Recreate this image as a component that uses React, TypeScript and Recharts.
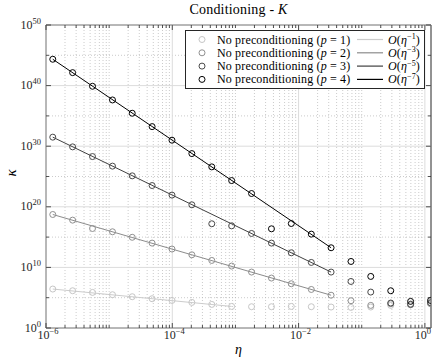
import React from "react";
import {
  ComposedChart,
  Line,
  XAxis,
  YAxis,
  ReferenceLine,
  ReferenceArea,
  Legend,
} from "recharts";

// eta values (x)
const ETA = [
  1.28e-6, 2.64e-6, 5.45e-6, 1.13e-5, 2.32e-5, 4.79e-5, 9.89e-5, 2.04e-4,
  4.22e-4, 8.71e-4, 1.8e-3, 3.72e-3, 7.67e-3, 1.59e-2, 3.27e-2, 6.76e-2,
  0.139, 0.288, 0.594, 1.23,
];

// condition numbers, one list per polynomial degree
const KAPPA_P1 = [
  2.69e6, 1.41e6, 7.41e5, 3.09e5, 1.45e5, 6.76e4, 3.55e4, 1.66e4, 7.76e3,
  3.63e3, 3.24e3, 3.24e3, 3.63e3, 3.24e3, 2.88e3, 2.51e3, 2.88e3, 5.37e3,
  6.92e3, 1.32e4,
];
const KAPPA_P2 = [
  5.37e18, 6.31e17, 2.63e16, 7.59e15, 9.33e14, 1.02e14, 1.07e13, 1.2e12,
  1.41e11, 1.66e10, 1.7e9, 1.74e8, 2.0e7, 2.29e6, 2.57e5, 3.16e4, 5.37e3,
  1.02e4, 6.92e3, 1.02e4,
];
const KAPPA_P3 = [
  3.09e31, 7.76e29, 1.95e28, 5.13e26, 1.29e25, 3.24e23, 8.51e21, 2.14e20,
  1.58e17, 7.24e16, 3.98e15, 1.02e14, 2.57e12, 6.61e10, 1.7e9, 4.79e7,
  8.51e5, 1.32e4, 8.32e3, 1.48e4,
];
const KAPPA_P4 = [
  2.24e44, 1.38e42, 7.76e39, 4.27e37, 2.75e35, 1.7e33, 9.77e30, 6.03e28,
  3.89e26, 2.14e24, 1.55e22, 2.34e16, 1.74e17, 3.09e15, 1.74e13, 9.55e10,
  3.24e8, 1.41e6, 2.45e4, 3.55e4,
];

// reference slopes O(eta^-(2p-1)): start/end index and value
const FIT_FIRST = [0, 0, 0, 0];
const FIT_LAST = [9, 14, 14, 14];
const FIT_FROM = [2.69e6, 5.37e18, 3.09e31, 2.24e44];
const FIT_TO = [3.63e3, 2.57e5, 1.7e9, 1.74e13];
const FIT_ORDERS = ["\u22121", "\u22123", "\u22125", "\u22127"];
const P_VALUES = [1, 2, 3, 4];

const X_MAJOR = [1e-6, 1e-4, 1e-2, 1];
const X_MAJOR_EXP = ["\u22126", "\u22124", "\u22122", "0"];
const Y_MAJOR = [1, 1e10, 1e20, 1e30, 1e40, 1e50];
const Y_MAJOR_EXP = ["0", "10", "20", "30", "40", "50"];
const Y_MINOR = [1e5, 1e15, 1e25, 1e35, 1e45];

const X_MAX = 1.25;
const W = 432;
const H = 362;
const PLOT_LEFT = 46;
const PLOT_RIGHT = 431;
const PLOT_TOP = 25;
const PLOT_BOTTOM = 328;

const FONT = '"Liberation Serif", serif';
const AXIS = "#262626";
const MARKER_COLORS = ["#c6c6c6", "#909090", "#4a4a4a", "#000000"];
const LINE_COLORS = ["#cccccc", "#8c8c8c", "#404040", "#000000"];

const KAPPA = [KAPPA_P1, KAPPA_P2, KAPPA_P3, KAPPA_P4];

// minor x gridlines: every integer multiple in each decade
const X_MINOR: number[] = [];
for (let d = -6; d <= 0; d++) {
  for (let k = 1; k <= 9; k++) {
    const v = k * Math.pow(10, d);
    if (v > X_MAX) continue;
    if (k === 1 && d % 2 === 0) continue;
    X_MINOR.push(v);
  }
}

const data = ETA.map((eta, i) => {
  const row: Record<string, number | undefined> = { eta };
  KAPPA.forEach((vals, s) => {
    row[`p${s + 1}`] = vals[i];
    row[`f${s + 1}`] =
      i === FIT_FIRST[s] ? FIT_FROM[s] : i === FIT_LAST[s] ? FIT_TO[s] : undefined;
  });
  return row;
});

const isMajor = (list: number[], v: number) =>
  list.findIndex((m) => Math.abs(Math.log10(m) - Math.log10(v)) < 1e-6);

const XTick = (props: any) => {
  const { x, y, payload } = props;
  const idx = isMajor(X_MAJOR, payload.value);
  const len = idx >= 0 ? 5 : 3;
  // last label would run off the page: pull it inside
  const last = idx === X_MAJOR.length - 1;
  return (
    <g>
      <line x1={x} x2={x} y1={y} y2={y - len} stroke={AXIS} strokeWidth={0.8} />
      <line x1={x} x2={x} y1={PLOT_TOP} y2={PLOT_TOP + len} stroke={AXIS} strokeWidth={0.8} />
      {idx >= 0 && (
        <text
          x={last ? W - 1 : x + 2}
          y={y + 11}
          textAnchor={last ? "end" : "middle"}
          style={{ fontFamily: FONT }}
          fontSize={12}
          fill={AXIS}
        >
          <tspan>10</tspan>
          <tspan dy={-5} fontSize={8.5}>
            {X_MAJOR_EXP[idx]}
          </tspan>
        </text>
      )}
    </g>
  );
};

const YTick = (props: any) => {
  const { x, y, payload } = props;
  const idx = isMajor(Y_MAJOR, payload.value);
  const len = idx >= 0 ? 5 : 3;
  return (
    <g>
      <line x1={x} x2={x + len} y1={y} y2={y} stroke={AXIS} strokeWidth={0.8} />
      <line x1={PLOT_RIGHT - len} x2={PLOT_RIGHT} y1={y} y2={y} stroke={AXIS} strokeWidth={0.8} />
      {idx >= 0 && (
        <text x={x - 5} y={y + 3.5} textAnchor="end" style={{ fontFamily: FONT }} fontSize={12} fill={AXIS}>
          <tspan>10</tspan>
          <tspan dy={-5} fontSize={8.5}>
            {Y_MAJOR_EXP[idx]}
          </tspan>
        </text>
      )}
    </g>
  );
};

const LegendBox = () => (
  <svg width={241} height={60} style={{ display: "block", fontFamily: FONT }}>
    <rect x={0.5} y={0.5} width={239} height={58} fill="#fff" stroke={AXIS} strokeWidth={1} />
    {P_VALUES.map((p, i) => {
      const cy = 9.5 + i * 13.3;
      return (
        <g key={p} fontSize={12} fill="#000" style={{ letterSpacing: 0.15 }}>
          <circle cx={17} cy={cy} r={3} fill="none" stroke={MARKER_COLORS[i]} strokeWidth={1} />
          <text x={32} y={cy + 4}>
            No preconditioning (<tspan fontStyle="italic">p</tspan> = {p})
          </text>
          <line x1={172} x2={198} y1={cy} y2={cy} stroke={LINE_COLORS[i]} strokeWidth={1.2} />
          <text x={235} y={cy + 4} textAnchor="end">
            <tspan fontStyle="italic">O</tspan>(<tspan fontStyle="italic">η</tspan>
            <tspan dy={-4.5} fontSize={8}>
              {FIT_ORDERS[i]}
            </tspan>
            <tspan dy={4.5}>)</tspan>
          </text>
        </g>
      );
    })}
  </svg>
);

export default function App() {
  return (
    <div style={{ position: "absolute", left: 0, top: 0, width: W, height: H, background: "#fff", fontFamily: FONT }}>
      <div
        style={{
          position: "absolute",
          left: PLOT_LEFT,
          width: PLOT_RIGHT - PLOT_LEFT,
          top: 2,
          textAlign: "center",
          fontFamily: FONT,
          fontSize: 14,
          letterSpacing: 0.2,
          color: "#000",
          zIndex: 2,
        }}
      >
        Conditioning - <i>K</i>
      </div>
      <ComposedChart
        width={W}
        height={H}
        data={data}
        margin={{ top: PLOT_TOP, right: W - PLOT_RIGHT, left: PLOT_LEFT - 40, bottom: H - PLOT_BOTTOM - 30 }}
      >
        <XAxis
          dataKey="eta"
          type="number"
          scale="log"
          domain={[1e-6, X_MAX]}
          allowDataOverflow
          ticks={[...X_MAJOR, ...X_MINOR]}
          interval={0}
          tick={<XTick />}
          tickSize={0}
          tickMargin={0}
          tickLine={false}
          axisLine={false}
          height={30}
          label={{ value: "η", position: "insideBottom", offset: 4, style: { fontFamily: FONT }, fontStyle: "italic", fontSize: 14, fill: "#000" }}
        />
        <YAxis
          type="number"
          scale="log"
          domain={[1, 1e50]}
          allowDataOverflow
          ticks={[...Y_MAJOR, ...Y_MINOR]}
          interval={0}
          tick={<YTick />}
          tickSize={0}
          tickMargin={0}
          tickLine={false}
          axisLine={false}
          width={40}
          label={{ value: "κ", angle: -90, position: "insideLeft", offset: 5, style: { fontFamily: FONT }, fontStyle: "italic", fontSize: 15, fill: "#000" }}
        />
        {X_MINOR.map((v) => (
          <ReferenceLine key={`xm${v}`} x={v} stroke="#b4b4b4" strokeWidth={0.7} strokeDasharray="1 2" />
        ))}
        {Y_MINOR.map((v) => (
          <ReferenceLine key={`ym${v}`} y={v} stroke="#b4b4b4" strokeWidth={0.7} strokeDasharray="1 2" />
        ))}
        {X_MAJOR.map((v) => (
          <ReferenceLine key={`xM${v}`} x={v} stroke="#dcdcdc" strokeWidth={1} />
        ))}
        {Y_MAJOR.map((v) => (
          <ReferenceLine key={`yM${v}`} y={v} stroke="#dcdcdc" strokeWidth={1} />
        ))}
        {P_VALUES.map((p, i) => (
          <Line
            key={`f${p}`}
            dataKey={`f${p}`}
            stroke={LINE_COLORS[i]}
            strokeWidth={1}
            dot={false}
            activeDot={false}
            connectNulls
            isAnimationActive={false}
          />
        ))}
        {P_VALUES.map((p, i) => (
          <Line
            key={`p${p}`}
            dataKey={`p${p}`}
            stroke="none"
            dot={{ r: 3, fill: "none", stroke: MARKER_COLORS[i], strokeWidth: 1 }}
            activeDot={false}
            isAnimationActive={false}
          />
        ))}
        <ReferenceArea x1={1e-6} x2={X_MAX} y1={1} y2={1e50} fill="none" stroke={AXIS} strokeWidth={1} ifOverflow="visible" />
        <Legend
          layout="vertical"
          align="center"
          verticalAlign="middle"
          content={<LegendBox />}
          wrapperStyle={{ left: 185, top: 30, width: 241, height: 60 }}
        />
      </ComposedChart>
    </div>
  );
}
